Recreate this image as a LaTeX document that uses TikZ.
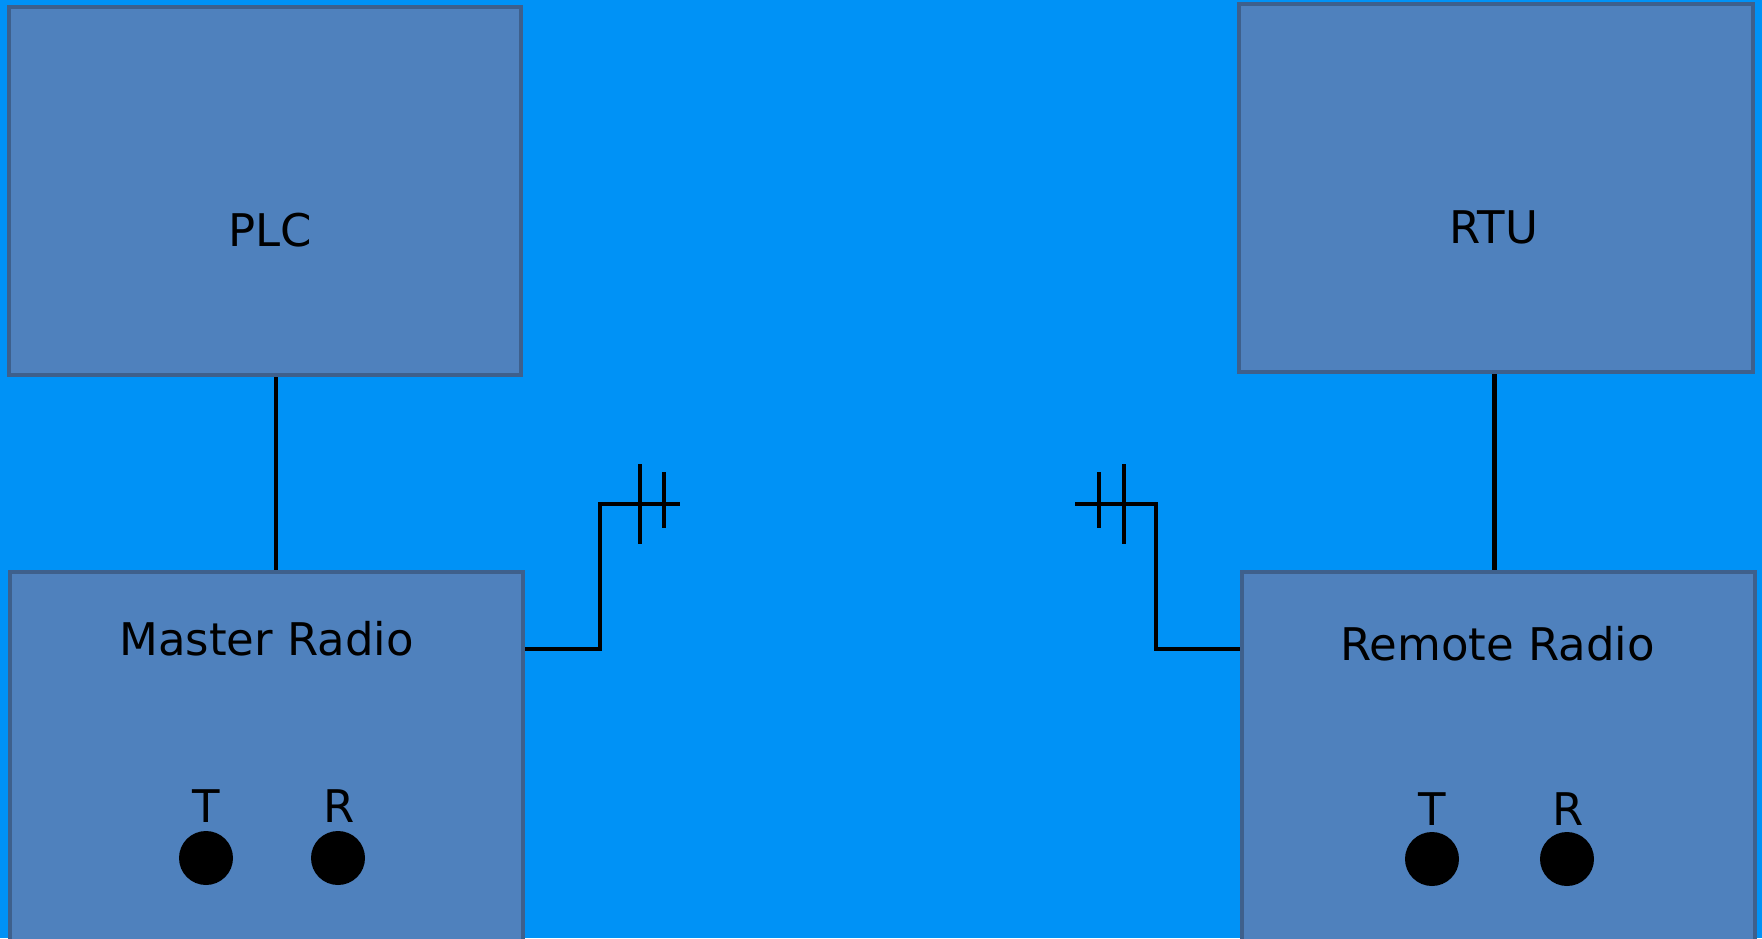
\documentclass[tikz,border=0pt]{standalone}
\usepackage{fontspec}
\setmainfont{DejaVu Sans}
\definecolor{bg}{RGB}{0,146,246}
\definecolor{boxfill}{RGB}{79,129,189}
\definecolor{boxline}{RGB}{62,96,140}
\begin{document}
\begin{tikzpicture}[x=1pt,y=-1pt,
  box/.style={draw=boxline,fill=boxfill,line width=4.5pt,rectangle,inner sep=0pt},
  lbl/.style={font=\fontsize{45}{54}\selectfont,text=black,inner sep=0pt,anchor=base},
  wire/.style={draw=black,line width=4.5pt},
  port/.style={circle,fill=black,inner sep=0pt,minimum size=54pt}]
\useasboundingbox (0,0) rectangle (1762,938);
\clip (0,0) rectangle (1762,938);
\fill[bg] (0,0) rectangle (1762,938);
% boxes
\node[box,minimum width=512pt,minimum height=368pt] (plc) at (265,191) {};
\node[box,minimum width=514pt,minimum height=368pt] (rtu) at (1496,188) {};
\node[box,minimum width=513pt,minimum height=420pt] (master) at (266.5,782) {};
\node[box,minimum width=513pt,minimum height=420pt] (remote) at (1498.5,782) {};
% labels
\node[lbl] (plct) at (270,246) {PLC};
\node[lbl] (rtut) at (1494,243) {RTU};
\node[lbl] (mastert) at (266.5,655) {Master Radio};
\node[lbl] (remotet) at (1497.5,660) {Remote Radio};
\node[lbl] (mT) at (206,822) {T};
\node[lbl] (mR) at (339,822) {R};
\node[lbl] (rT) at (1432,825) {T};
\node[lbl] (rR) at (1568,825) {R};
% ports
\node[port] (mTp) at (206,858) {};
\node[port] (mRp) at (338,858) {};
\node[port] (rTp) at (1432,859) {};
\node[port] (rRp) at (1567,859) {};
% vertical links
\draw[wire] (plc.south -| 276,0) -- (master.north -| 276,0);
\draw[wire] (rtu.south -| 1494.5,0) -- (remote.north -| 1494.5,0);
% antennas
\coordinate (mant) at (680,504);
\coordinate (rant) at (1075,504);
\draw[wire] (master.east |- 0,649) -- (600,649) -- (600,504) -- (mant);
\draw[wire] (640,464) -- (640,544);
\draw[wire] (664,472) -- (664,528);
\draw[wire] (remote.west |- 0,649) -- (1156,649) -- (1156,504) -- (rant);
\draw[wire] (1124,464) -- (1124,544);
\draw[wire] (1099,472) -- (1099,528);
\end{tikzpicture}
\end{document}
